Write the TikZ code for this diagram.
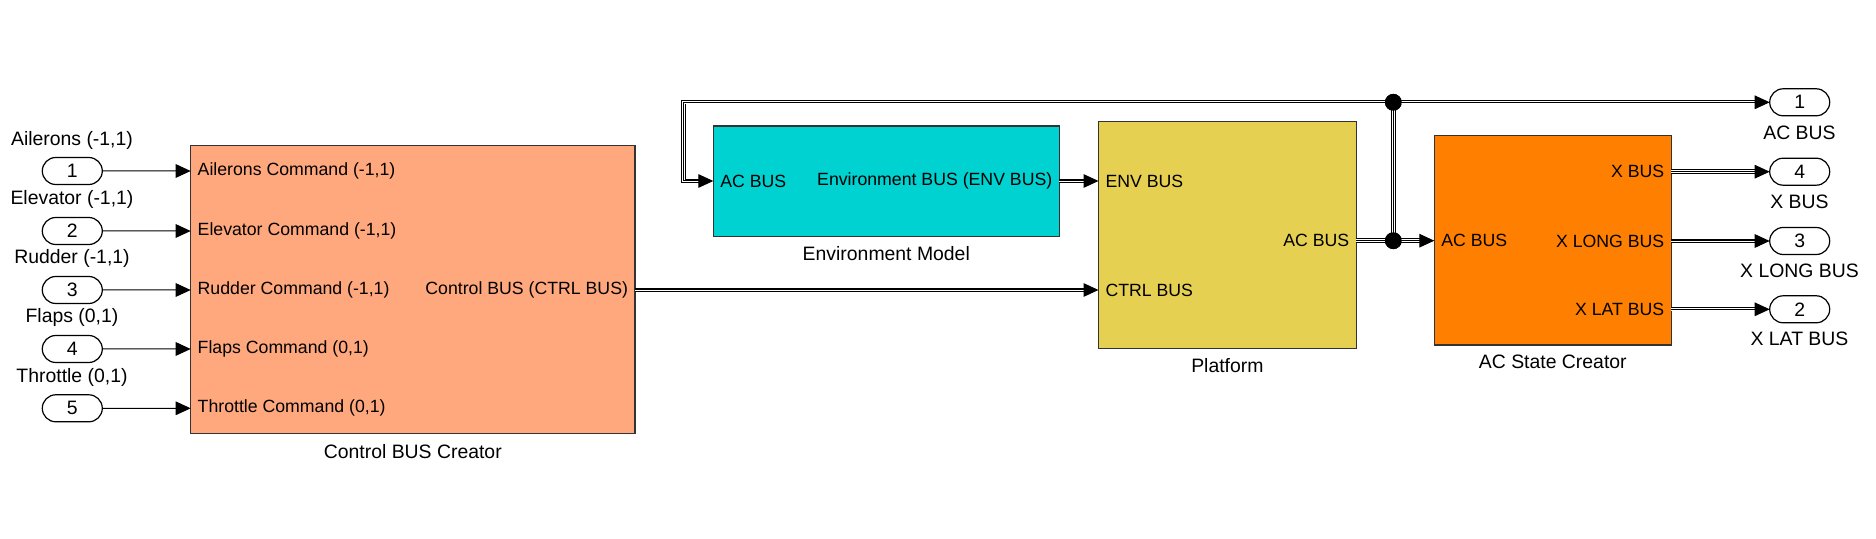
\documentclass[tikz,border=0pt]{standalone}
\usepackage{fontspec}
\setmainfont{Liberation Sans}
\usetikzlibrary{arrows.meta,shapes.misc}
\definecolor{cbcfill}{RGB}{255,168,126}
\definecolor{envfill}{RGB}{0,209,209}
\definecolor{platfill}{RGB}{230,208,82}
\definecolor{acsfill}{RGB}{255,128,0}
\definecolor{edge}{RGB}{51,51,51}
\begin{document}
\begin{tikzpicture}[x=0.5pt,y=-0.5pt,
  block/.style={draw=edge, line width=0.6pt, inner sep=0pt, outer sep=0pt, anchor=north west},
  plab/.style={font=\fontsize{8.85}{10}\selectfont, inner sep=0pt},
  nlab/.style={font=\fontsize{9.7}{11}\selectfont, inner sep=0pt},
  port/.style={rounded rectangle, draw, line width=0.6pt, minimum width=30pt, minimum height=13.5pt, inner sep=0pt, outer sep=0pt, font=\fontsize{9.7}{11}\selectfont},
  sig/.style={line width=0.5pt, -{Triangle[length=7.5pt,width=6.8pt]}},
  busline/.style={draw=none, postaction={draw, line width=2.2pt}, postaction={draw=white, line width=1.3pt}, postaction={draw, line width=0.5pt}},
  bus/.style={draw=none, postaction={draw, line width=2.2pt, shorten >=7.3pt}, postaction={draw=white, line width=1.3pt, shorten >=7.3pt}, postaction={draw, line width=0.5pt, -{Triangle[length=7.5pt,width=6.8pt]}}},
  dot/.style={circle, fill, inner sep=0pt, outer sep=0pt, minimum size=8.4pt}
]
\useasboundingbox (0,0) rectangle (1876,539);

% blocks
\node[block, fill=cbcfill, minimum width=222.15pt, minimum height=143.8pt] (cbc) at (190.7,145.7) {};
\node[block, fill=envfill, minimum width=173pt, minimum height=55.35pt] (env) at (713.3,126) {};
\node[block, fill=platfill, minimum width=128.9pt, minimum height=113.55pt] (plat) at (1098.5,121.7) {};
\node[block, fill=acsfill, minimum width=118.5pt, minimum height=104.65pt] (acs) at (1434.3,135.7) {};

% block names
\node[nlab] (cbcname) at (412.8,451.7) {Control BUS Creator};
\node[nlab] (envname) at (886.3,253.3) {Environment Model};
\node[nlab] (platname) at (1227.4,366) {Platform};
\node[nlab] (acsname) at (1552.8,361.7) {AC State Creator};

% inports
\node[port] (in1) at (72.3,171) {1};
\node[port] (in2) at (72.3,231) {2};
\node[port] (in3) at (72.3,290) {3};
\node[port] (in4) at (72.3,349) {4};
\node[port] (in5) at (72.3,408.3) {5};
\node[nlab] (inl1) at (72,140) {Ailerons (-1,1)};
\node[nlab] (inl2) at (72,199) {Elevator (-1,1)};
\node[nlab] (inl3) at (72,258.5) {Rudder (-1,1)};
\node[nlab] (inl4) at (72,317.5) {Flaps (0,1)};
\node[nlab] (inl5) at (72,377) {Throttle (0,1)};

% outports
\node[port] (out1) at (1799.7,102.3) {1};
\node[port] (out4) at (1799.7,171.7) {4};
\node[port] (out3) at (1799.7,241) {3};
\node[port] (out2) at (1799.7,309.3) {2};
\node[nlab] (outl1) at (1799.5,133.3) {AC BUS};
\node[nlab] (outl4) at (1799.5,202.3) {X BUS};
\node[nlab] (outl3) at (1799.5,271) {X LONG BUS};
\node[nlab] (outl2) at (1799.5,339.3) {X LAT BUS};

% port coordinates
\coordinate (cbcin1) at (cbc.west |- in1);
\coordinate (cbcin2) at (cbc.west |- in2);
\coordinate (cbcin3) at (cbc.west |- in3);
\coordinate (cbcin4) at (cbc.west |- in4);
\coordinate (cbcin5) at (cbc.west |- in5);
\coordinate (cbcout) at (cbc.east |- 0,290);
\coordinate (envin) at (env.west |- 0,181);
\coordinate (envout) at (env.east |- 0,181);
\coordinate (platin1) at (plat.west |- 0,181);
\coordinate (platin2) at (plat.west |- 0,290);
\coordinate (platout) at (plat.east |- 0,240.7);
\coordinate (acsin) at (acs.west |- 0,240.7);
\coordinate (acsout1) at (acs.east |- out4);
\coordinate (acsout2) at (acs.east |- out3);
\coordinate (acsout3) at (acs.east |- out2);
\coordinate (fbtop) at (683.3,102.3);
\coordinate (fbbot) at (683.3,181);

% port labels
\node[plab, anchor=west] (cbcl1) at ([xshift=3.3pt]cbcin1) {Ailerons Command (-1,1)};
\node[plab, anchor=west] (cbcl2) at ([xshift=3.3pt]cbcin2) {Elevator Command (-1,1)};
\node[plab, anchor=west] (cbcl3) at ([xshift=3.3pt]cbcin3) {Rudder Command (-1,1)};
\node[plab, anchor=west] (cbcl4) at ([xshift=3.3pt]cbcin4) {Flaps Command (0,1)};
\node[plab, anchor=west] (cbcl5) at ([xshift=3.3pt]cbcin5) {Throttle Command (0,1)};
\node[plab, anchor=east] (cbclo) at ([xshift=-3.3pt]cbcout) {Control BUS (CTRL BUS)};
\node[plab, anchor=west] (envli) at ([xshift=3.3pt]envin) {AC BUS};
\node[plab, anchor=east] (envlo) at ([xshift=-3.3pt]envout) {Environment BUS (ENV BUS)};
\node[plab, anchor=west] (platl1) at ([xshift=3.3pt]platin1) {ENV BUS};
\node[plab, anchor=west] (platl2) at ([xshift=3.3pt]platin2) {CTRL BUS};
\node[plab, anchor=east] (platlo) at ([xshift=-3.3pt]platout) {AC BUS};
\node[plab, anchor=west] (acsli) at ([xshift=3.3pt]acsin) {AC BUS};
\node[plab, anchor=east] (acsl1) at ([xshift=-3.3pt]acsout1) {X BUS};
\node[plab, anchor=east] (acsl2) at ([xshift=-3.3pt]acsout2) {X LONG BUS};
\node[plab, anchor=east] (acsl3) at ([xshift=-3.3pt]acsout3) {X LAT BUS};

% junctions
\node[dot] (j1) at (1393.3,240.7) {};
\node[dot] (j2) at (1393.3,102.3) {};

% signals
\draw[sig] (in1) -- (cbcin1);
\draw[sig] (in2) -- (cbcin2);
\draw[sig] (in3) -- (cbcin3);
\draw[sig] (in4) -- (cbcin4);
\draw[sig] (in5) -- (cbcin5);

% buses
\draw[bus] (cbcout) -- (platin2);
\draw[bus] (envout) -- (platin1);
\draw[busline] (platout) -- (j1.center);
\draw[bus] (j1.center) -- (acsin);
\draw[busline] (j1.center) -- (j2.center);
\draw[bus] (j2.center) -- (out1);
\draw[bus] (j2.center) -- (fbtop) -- (fbbot) -- (envin);
\draw[bus] (acsout1) -- (out4);
\draw[bus] (acsout2) -- (out3);
\draw[bus] (acsout3) -- (out2);

% junction dots on top
\fill (j1) circle[radius=4.2pt];
\fill (j2) circle[radius=4.2pt];
\end{tikzpicture}
\end{document}
